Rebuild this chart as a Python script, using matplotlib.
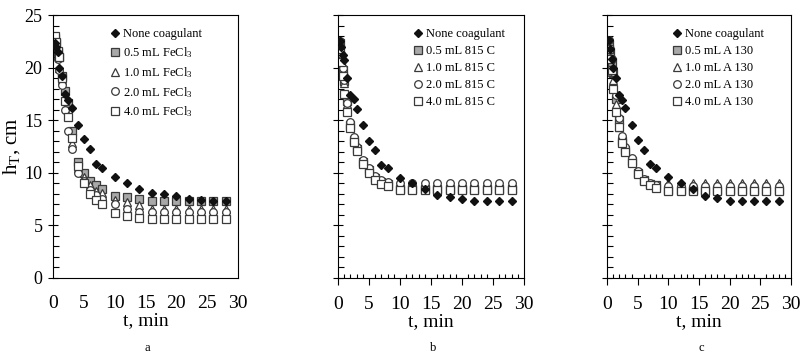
import matplotlib
matplotlib.use("Agg")
import matplotlib.pyplot as plt
from matplotlib.ticker import MultipleLocator

plt.rcParams['font.family'] = ['Liberation Serif', 'DejaVu Serif']
plt.rcParams['mathtext.fontset'] = 'custom'
plt.rcParams['mathtext.rm'] = 'Liberation Serif'
plt.rcParams['mathtext.it'] = 'Liberation Serif'

# settling time, min
t = [0.25, 0.5, 0.75, 1, 1.5, 2, 2.5, 3, 4, 5, 6, 7, 8, 10, 12, 14, 16, 18, 20, 22, 24, 26, 28]

# panel a - FeCl3
none_a = [22.3, 22.0, 21.5, 20.0, 19.2, 17.5, 16.9, 16.2, 14.5, 13.2, 12.3, 10.8, 10.5, 9.6, 9.0, 8.5, 8.1, 8.0, 7.8, 7.5, 7.4, 7.3, 7.3]
fe_05 = [22.8, 22.3, 21.5, 21.0, 19.2, 17.8, 16.6, 14.0, 11.0, 10.0, 9.2, 8.8, 8.5, 7.8, 7.7, 7.5, 7.3, 7.3, 7.3, 7.3, 7.3, 7.3, 7.3]
fe_10 = [22.5, 21.9, 21.2, 20.0, 18.8, 17.0, 15.5, 12.8, 10.5, 9.6, 8.8, 8.3, 8.1, 7.4, 7.2, 6.9, 6.6, 6.6, 6.6, 6.6, 6.6, 6.6, 6.6]
fe_20 = [22.0, 21.6, 20.8, 19.8, 18.3, 16.0, 14.0, 12.3, 10.0, 9.2, 8.4, 7.9, 7.5, 7.0, 6.6, 6.3, 6.3, 6.3, 6.3, 6.3, 6.3, 6.3, 6.3]
fe_40 = [23.0, 22.4, 21.6, 21.0, 19.0, 16.8, 15.3, 13.3, 10.6, 9.0, 8.0, 7.4, 7.0, 6.2, 5.9, 5.7, 5.6, 5.6, 5.6, 5.6, 5.6, 5.6, 5.6]

# panel b - 815 C
none_b = [22.5, 22.0, 21.2, 20.7, 19.0, 17.4, 17.0, 16.1, 14.5, 13.0, 12.2, 10.7, 10.45, 9.5, 9.0, 8.5, 7.9, 7.7, 7.5, 7.3, 7.3, 7.3, 7.3]
c815_05 = [22.3, 21.0, 19.8, 18.7, 16.8, 14.5, 13.1, 12.3, 11.0, 10.3, 9.5, 9.15, 8.9, 8.5, 8.5, 8.5, 8.5, 8.5, 8.5, 8.5, 8.5, 8.5, 8.5]
c815_10 = [22.0, 20.8, 19.5, 18.5, 16.5, 14.7, 13.2, 12.4, 11.0, 10.2, 9.4, 9.0, 8.8, 8.6, 8.6, 8.6, 8.6, 8.6, 8.6, 8.6, 8.6, 8.6, 8.6]
c815_20 = [22.5, 21.3, 20.0, 18.8, 16.6, 14.8, 13.4, 12.5, 11.2, 10.5, 9.7, 9.3, 9.1, 9.0, 9.0, 9.0, 9.0, 9.0, 9.0, 9.0, 9.0, 9.0, 9.0]
c815_40 = [21.8, 20.5, 19.2, 17.5, 15.8, 14.3, 12.9, 12.1, 10.8, 10.0, 9.3, 8.9, 8.7, 8.4, 8.4, 8.4, 8.4, 8.4, 8.4, 8.4, 8.4, 8.4, 8.4]

# panel c - A 130
none_c = [22.6, 21.8, 20.8, 20.0, 19.0, 17.4, 16.9, 16.2, 14.5, 13.1, 12.2, 10.8, 10.5, 9.6, 9.0, 8.5, 7.8, 7.6, 7.35, 7.3, 7.3, 7.3, 7.3]
a130_05 = [22.2, 21.5, 20.5, 19.5, 17.0, 15.0, 13.0, 12.2, 11.1, 10.0, 9.3, 8.9, 8.8, 8.4, 8.4, 8.4, 8.4, 8.4, 8.4, 8.4, 8.4, 8.4, 8.4]
a130_10 = [22.0, 21.0, 19.6, 18.8, 16.5, 14.4, 13.2, 12.3, 11.2, 10.0, 9.3, 8.9, 8.8, 9.0, 9.0, 9.0, 9.0, 9.0, 9.0, 9.0, 9.0, 9.0, 9.0]
a130_20 = [22.6, 21.8, 20.8, 19.6, 17.4, 15.2, 13.5, 12.5, 11.4, 10.2, 9.4, 9.0, 8.8, 8.7, 8.7, 8.7, 8.7, 8.7, 8.7, 8.7, 8.7, 8.7, 8.7]
a130_40 = [21.8, 20.8, 19.8, 18.0, 15.8, 14.4, 12.8, 12.0, 10.9, 9.9, 9.2, 8.8, 8.6, 8.3, 8.3, 8.3, 8.3, 8.3, 8.3, 8.3, 8.3, 8.3, 8.3]

doses = ["0.5", "1.0", "2.0", "4.0"]

panels = [
    ("a", "FeCl$_3$", none_a, [fe_05, fe_10, fe_20, fe_40], 0.31),
    ("b", "815 C", none_b, [c815_05, c815_10, c815_20, c815_40], 0.405),
    ("c", "A 130", none_c, [a130_05, a130_10, a130_20, a130_40], 0.355),
]

styles = [
    dict(marker='s', mfc='#a8a8a8', mec='#3a3a3a'),
    dict(marker='^', mfc='white', mec='#3a3a3a'),
    dict(marker='o', mfc='white', mec='#3a3a3a'),
    dict(marker='s', mfc='white', mec='#3a3a3a'),
]

fig = plt.figure(figsize=(8.02, 3.61), dpi=100)
lefts = [53, 338, 607]
widths = [185, 186, 184]
W, H = 802, 361
for i, (tag, name, none_v, series, lx) in enumerate(panels):
    ax = fig.add_axes([lefts[i] / W, (H - 278) / H, widths[i] / W, 263 / H])
    for j, y in enumerate(series):
        ax.plot(t, y, ls='none', ms=5.5, mew=0.9, label=doses[j] + " mL " + name, **styles[j])
    ax.plot(t, none_v, ls='none', marker='D', ms=4.5, color='#111111', label="None coagulant", zorder=5)
    handles, labels = ax.get_legend_handles_labels()
    order = [4, 0, 1, 2, 3]
    ax.legend([handles[k] for k in order], [labels[k] for k in order],
              loc='upper left', bbox_to_anchor=(lx, 0.95), frameon=False,
              fontsize=9, handlelength=0.7, handletextpad=0.3,
              borderpad=0, borderaxespad=0, labelspacing=0.4)
    ax.set_xlim(0, 30)
    ax.set_ylim(0, 25)
    ax.xaxis.set_major_locator(MultipleLocator(5))
    ax.yaxis.set_major_locator(MultipleLocator(5))
    ax.yaxis.set_minor_locator(MultipleLocator(1))
    ax.tick_params(axis='y', which='major', direction='inout', length=7, width=0.8)
    ax.tick_params(axis='y', which='minor', direction='in', length=4, width=0.8)
    if tag == 'a':
        ax.tick_params(axis='x', which='major', length=0, pad=12, labelsize=14)
        ax.tick_params(axis='y', pad=4, labelsize=13)
        ax.set_ylabel("h$_\\mathrm{T}$, cm", fontsize=15)
        ax.yaxis.set_label_coords(-0.17, 0.5)
    else:
        ax.xaxis.set_minor_locator(MultipleLocator(1))
        ax.tick_params(axis='x', which='major', direction='out', length=5, width=0.8, pad=8, labelsize=14)
        ax.tick_params(axis='x', which='minor', direction='in', length=3, width=0.8)
        ax.tick_params(axis='y', labelleft=False)
    ax.set_xlabel("t, min", fontsize=14, labelpad=0)
    for s in ax.spines.values():
        s.set_linewidth(0.8)
    fig.text((lefts[i] + widths[i] / 2 + 2) / W, 1 - 348 / H, tag, fontsize=9, ha='center', va='center')

fig.savefig("out.png", dpi=100)
